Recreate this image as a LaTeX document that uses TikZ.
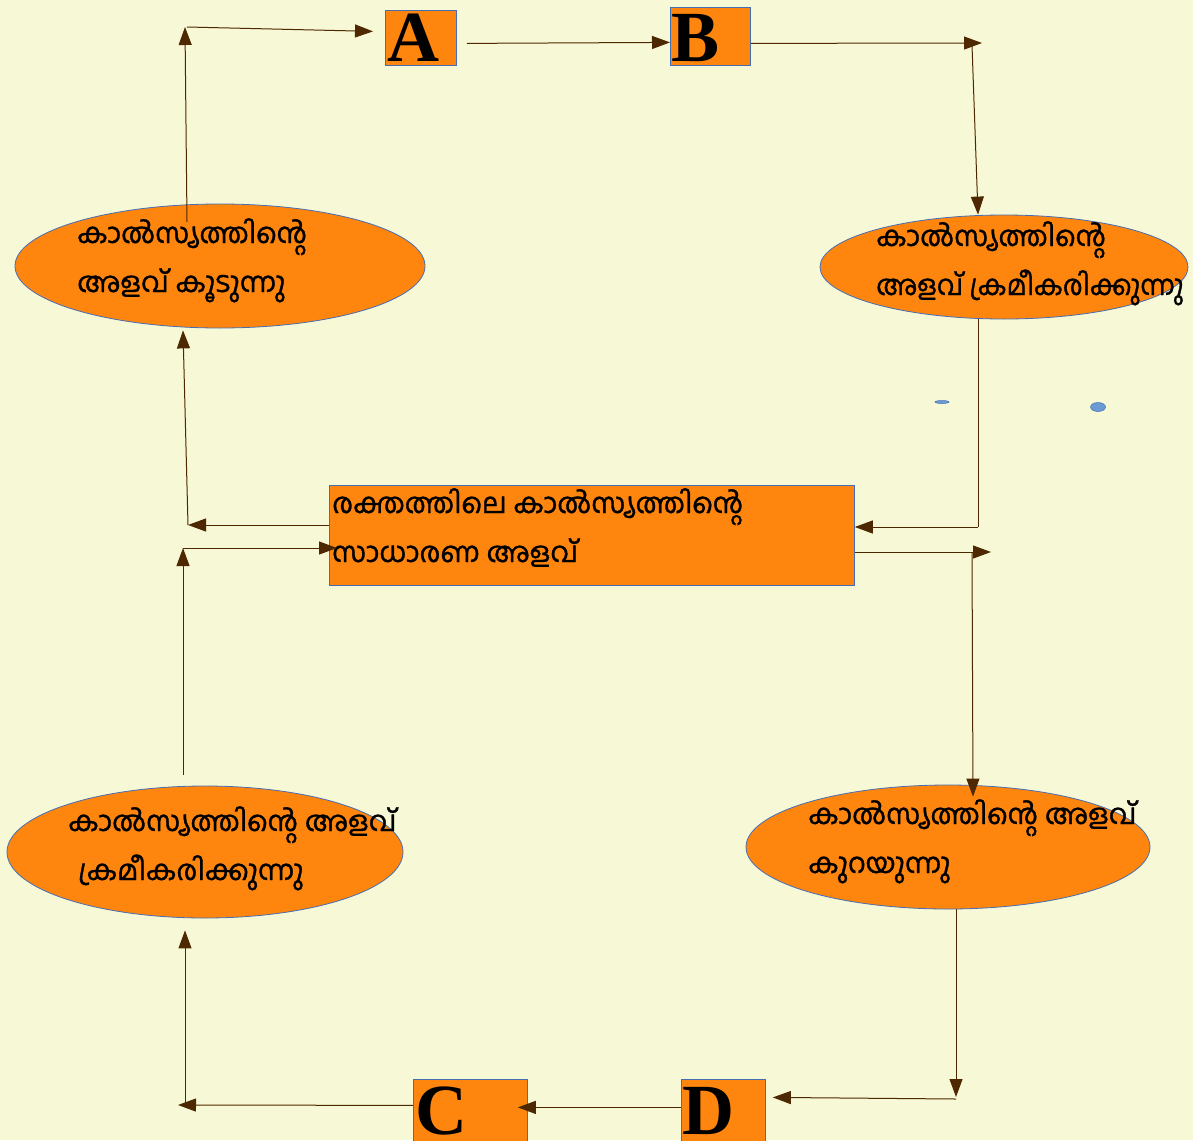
\documentclass[tikz,border=0pt]{standalone}
\usepackage{fontspec}
\setmainfont{Liberation Serif}
\newfontfamily\mal[Script=Malayalam,FakeBold=1.2]{Hind Kochi}
\usetikzlibrary{arrows.meta,shapes.geometric}
\definecolor{bg}{RGB}{247,248,213}
\definecolor{org}{RGB}{255,134,14}
\definecolor{edge}{RGB}{70,110,180}
\definecolor{brn}{RGB}{77,40,0}
\definecolor{dotc}{RGB}{106,155,212}
\tikzset{
  box/.style={draw=edge, line width=0.8pt, fill=org, rectangle, inner sep=0pt, anchor=north west},
  oval/.style={draw=edge, line width=0.8pt, fill=org, ellipse, inner sep=0pt},
  letter/.style={font=\bfseries\fontsize{72}{72}\selectfont, inner sep=0pt, anchor=base west},
  mtext/.style={font=\mal\fontsize{28}{49}\selectfont, inner sep=0pt, anchor=base west, align=left},
  conn/.style={draw=brn, line width=1pt, -{Triangle[length=18pt,width=13pt]}},
  plain/.style={draw=brn, line width=1pt},
}
\begin{document}
\begin{tikzpicture}[x=1pt,y=-1pt]
\useasboundingbox (0,0) rectangle (1193,1140);
\fill[bg] (0,0) rectangle (1193,1140);

% boxes
\node[box, minimum width=71pt, minimum height=55pt] (A) at (385,10) {};
\node[box, minimum width=80pt, minimum height=58pt] (B) at (670,7) {};
\node[box, minimum width=114pt, minimum height=62pt] (C) at (413,1079) {};
\node[box, minimum width=84pt, minimum height=62pt] (D) at (681,1079) {};
\node[box, minimum width=525pt, minimum height=100pt] (R) at (329,485) {};

\node[letter] (At) at (387,62) {A};
\node[letter] (Bt) at (671,62) {B};
\node[letter] (Ct) at (415,1134) {C};
\node[letter] (Dt) at (682,1134) {D};

% ellipses
\node[oval, minimum width=410pt, minimum height=124pt] (E1) at (220,266) {};
\node[oval, minimum width=368pt, minimum height=104pt] (E2) at (1004,267) {};
\node[oval, minimum width=396pt, minimum height=132pt] (E3) at (205,852) {};
\node[oval, minimum width=404pt, minimum height=124pt] (E4) at (948,847) {};

% small marks
\node[oval, fill=dotc, line width=0.5pt, minimum width=14pt, minimum height=3pt] (s1) at (942,402) {};
\node[oval, fill=dotc, line width=0.5pt, minimum width=15pt, minimum height=9pt] (s2) at (1098,407) {};

% texts (anchor = baseline of the last line)
\node[mtext] (T1) at (77,292) {കാൽസ്യത്തിന്റെ\\അളവ് കൂടുന്നു};
\node[mtext] (T2) at (876,295) {കാൽസ്യത്തിന്റെ\\\scalebox{0.95}[1]{അളവ് ക്രമീകരിക്കുന്നു}};
\node[mtext] (TR) at (332,562) {രക്തത്തിലെ കാൽസ്യത്തിന്റെ\\സാധാരണ അളവ്};
\node[mtext] (T3) at (68,880) {കാൽസ്യത്തിന്റെ അളവ്\\\hspace*{10pt}ക്രമീകരിക്കുന്നു};
\node[mtext] (T4) at (808,873) {കാൽസ്യത്തിന്റെ അളവ്\\കുറയുന്നു};

% corner coordinates
\coordinate (p1) at (185,27);
\coordinate (p1b) at (187,27);
\coordinate (p2) at (982,43);
\coordinate (p2b) at (972,45);
\coordinate (p3) at (978,527);
\coordinate (p4) at (991,552);
\coordinate (p4b) at (972,552);
\coordinate (p5) at (956,1097);
\coordinate (p5b) at (956,1099);
\coordinate (p6) at (178,1105);
\coordinate (p6b) at (185,1105);
\coordinate (p7) at (183,548);
\coordinate (p7s) at (183,775);
\coordinate (p8) at (188,525);

% connectors
\draw[conn] ([xshift=-33pt,yshift=44pt]E1.center) -- (p1);
\draw[conn] (p1b) -- ([xshift=-12pt,yshift=6.5pt]A.west);
\draw[conn] ([xshift=10pt,yshift=-5.5pt]A.east) -- ([yshift=-6pt]B.west);
\draw[conn] ([yshift=-7pt]B.east) -- (p2);
\draw[conn] (p2b) -- ([xshift=-26pt]E2.north);
\draw[plain] ([xshift=-26pt]E2.south) -- (p3);
\draw[conn] (p3) -- (R.east |- p3);
\draw[conn] (R.east |- p4) -- (p4);
\draw[conn] (p4b) -- ([xshift=25pt,yshift=-12pt]E4.north);
\draw[conn] ([xshift=8pt]E4.south) -- (p5);
\draw[conn] (p5b) -- ([xshift=7pt,yshift=13pt]D.east);
\draw[conn] ([yshift=3pt]D.west) -- ([xshift=-10pt,yshift=3pt]C.east);
\draw[conn] ([yshift=5pt]C.west) -- (p6);
\draw[conn] (p6b) -- ([xshift=-20pt,yshift=-12pt]E3.south);
\draw[conn] (p7s) -- (p7);
\draw[conn] (p7) -- ([xshift=8pt]R.west |- p7);
\draw[conn] (R.west |- p8) -- (p8);
\draw[conn] (p8) -- ([xshift=-37pt,yshift=-2pt]E1.south);
\end{tikzpicture}
\end{document}
